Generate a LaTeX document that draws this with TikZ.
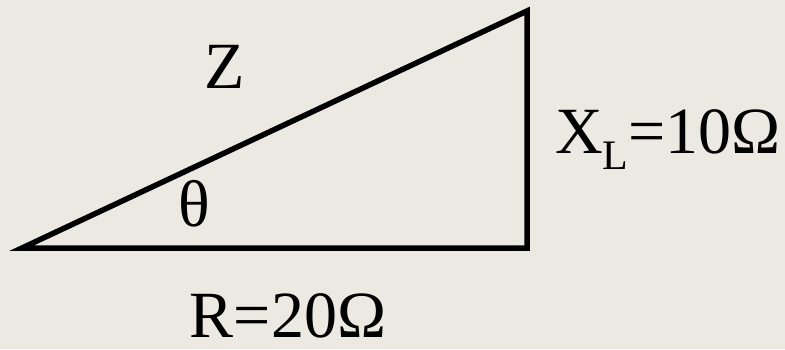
\documentclass[tikz,border=0pt]{standalone}
\usepackage{fontspec}
\setmainfont{Liberation Serif}
\definecolor{bg}{RGB}{236,232,226}
\begin{document}
\begin{tikzpicture}[x=1pt,y=-1pt,
  lbl/.style={inner sep=0pt,anchor=base,text depth=0pt,font=\fontsize{66}{78}\selectfont},
  edge/.style={line width=5.5pt,line cap=butt,line join=miter}]
\fill[bg] (0,0) rectangle (785,349);
\useasboundingbox (0,0) rectangle (785,349);
\coordinate (A) at (22,248);
\coordinate (B) at (527,248);
\coordinate (C) at (527,11);
\draw[edge] (A) -- (B) -- (C) -- cycle;
\node[lbl] (z) at (225,88) {Z};
\node[lbl] (th) at (194,226) {θ};
\node[lbl] (r) at (288,337) {R=20Ω};
\node[lbl,anchor=base west] (x) at (555,153) {X\raisebox{-16pt}{\fontsize{42}{44}\selectfont L}=10Ω};
\end{tikzpicture}
\end{document}
